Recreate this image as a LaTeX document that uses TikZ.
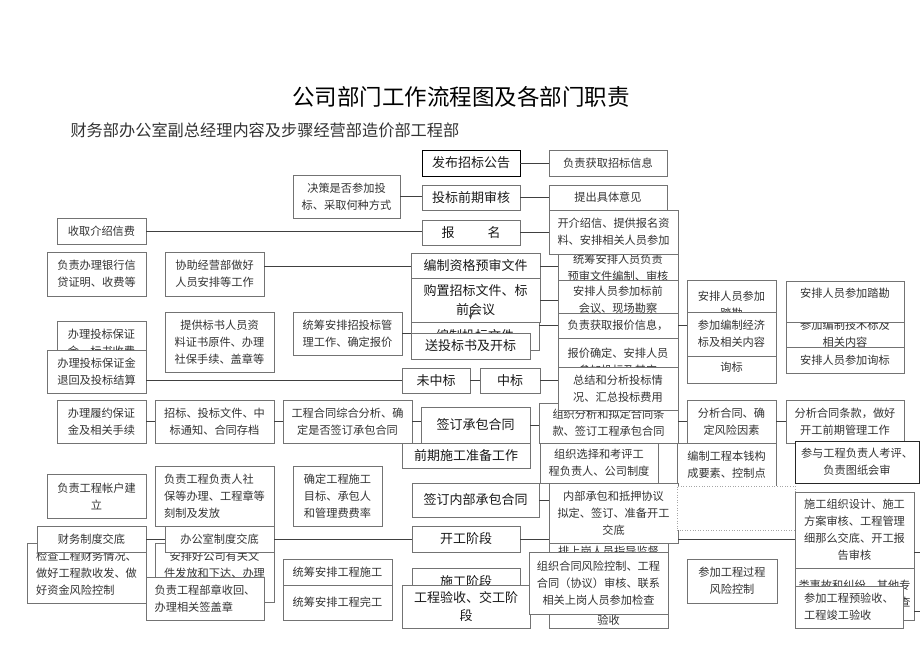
\documentclass[tikz,border=0pt]{standalone}
\usepackage{fontspec}
\setmainfont{Noto Sans CJK SC}
\usetikzlibrary{arrows.meta}

\begin{document}
\begin{tikzpicture}[x=1pt,y=-1pt,
        kuang/.style={draw=black!55, fill=white, line width=0.6pt, inner sep=0pt,
            align=center, text=black!80, font=\fontsize{11.2}{17}\selectfont},
        zhu/.style={kuang, text=black!90, font=\fontsize{13}{18.5}\selectfont},
        wh/.style 2 args={minimum width=#1, minimum height=#2},
        lian/.style={draw=black!75, line width=0.7pt}]
        \useasboundingbox[fill=white] (0,0) rectangle (920,651);

        % titulek
        \node[font=\fontsize{22.5}{26}\selectfont] (biaoti) at (461,97) {公司部门工作流程图及各部门职责};
        \node[font=\fontsize{16.2}{20}\selectfont, text=black!80, anchor=west] (bumen) at (67,130)
            {财务部办公室副总经理内容及步骤经营部造价部工程部};

        % zahajeni
        \node[zhu, draw=black, wh={98}{26}] (fabu) at (471,163) {发布招标公告};
        \node[kuang, wh={118}{26}] (huoqu) at (608,163) {负责获取招标信息};
        \node[kuang, wh={107}{43}] (juece) at (346.5,196.5) {决策是否参加投\\标、采取何种方式};
        \node[zhu, wh={98}{25}] (qianqi) at (471,197.5) {投标前期审核};
        \node[kuang, wh={118}{25}] (yijian) at (608,197.5) {提出具体意见};
        \node[kuang, wh={120}{45}] (tongchou1) at (618,267.5) {统筹安排人员负责\\预审文件编制、审核};
        \node[kuang, wh={129}{44}] (jieshaoxin) at (613.5,232) {开介绍信、提供报名资\\料、安排相关人员参加};
        \node[zhu, wh={98}{25}] (baoming) at (471,232.5) {报\hspace{33pt}名};
        \node[kuang, wh={89}{26}] (shoufei) at (101.5,231) {收取介绍信费};

        % pripravne prace
        \node[kuang, wh={99}{44}] (yinhang) at (96.5,274) {负责办理银行信\\贷证明、收费等};
        \node[kuang, wh={99}{44}] (xiezhu) at (214.5,274) {协助经营部做好\\人员安排等工作};
        \node[zhu, wh={129}{26}] (yushen) at (475.5,266) {编制资格预审文件};
        \node[zhu, wh={128}{28}] (bianzhi) at (475,336) {编制投标文件};
        \node[zhu, wh={129}{44}] (gouzhi) at (475.5,300) {购置招标文件、标\\前会议};
        \node[zhu, wh={119}{26}] (song) at (470.5,346) {送投标书及开标};
        \node[kuang, wh={120}{40}] (canjia1) at (618,300) {安排人员参加标前\\会议、现场勘察};
        \node[kuang, wh={120}{25}] (baojiaxinxi) at (618,325.5) {负责获取报价信息，};
        \node[kuang, wh={120}{47}] (baojiaqueding) at (618,361.5) {报价确定、安排人员\\参加投标及其它};
        \node[kuang, wh={139}{40}] (tiaokuan) at (608.5,423) {组织分析和拟定合同条\\款、签订工程承包合同};
        \node[kuang, wh={120}{43}] (zongjie) at (618,388.5) {总结和分析投标情\\况、汇总投标费用};
        \node[kuang, wh={89}{44}] (bzj1) at (101.5,343) {办理投标保证\\金、标书收费};
        \node[kuang, wh={99}{43}] (bzj2) at (96.5,371.5) {办理投标保证金\\退回及投标结算};
        \node[kuang, wh={109}{60}] (tigong) at (219.5,342) {提供标书人员资\\料证书原件、办理\\社保手续、盖章等};
        \node[kuang, wh={109}{43}] (tongchou2) at (347.5,333.5) {统筹安排招投标管\\理工作、确定报价};
        \node[zhu, wh={68}{25}] (weizhong) at (436,380.5) {未中标};
        \node[zhu, wh={60}{25}] (zhongbiao) at (510,380.5) {中标};

        % zakazky
        \node[kuang, wh={89}{50}] (tacan) at (731.5,305) {安排人员参加\\踏勘};
        \node[kuang, wh={89}{48}] (xunbiao1) at (731.5,359) {安排人员参加\\询标};
        \node[kuang, wh={89}{44}] (jingjibiao) at (731.5,334) {参加编制经济\\标及相关内容};
        \node[kuang, wh={118}{48}] (jishubiao) at (845,334) {参加编制技术标及\\相关内容};
        \node[kuang, wh={118}{41}] (tacan2) at (845,301.5) {安排人员参加踏勘\\\mbox{}};
        \node[kuang, wh={118}{26}] (xunbiao2) at (845,360) {安排人员参加询标};

        % smlouva
        \node[kuang, wh={89}{43}] (lvyue) at (101.5,421.5) {办理履约保证\\金及相关手续};
        \node[kuang, wh={119}{43}] (cundang) at (214.5,421.5) {招标、投标文件、中\\标通知、合同存档};
        \node[kuang, wh={129}{43}] (fenxi) at (347.5,421.5) {工程合同综合分析、确\\定是否签订承包合同};
        \node[zhu, wh={109}{36}] (qianding) at (475.5,425) {签订承包合同};
        \node[kuang, wh={89}{43}] (fengxian) at (731.5,421.5) {分析合同、确\\定风险因素};
        \node[kuang, wh={118}{43}] (kaigong) at (845,421.5) {分析合同条款，做好\\开工前期管理工作};

        \node[zhu, wh={128}{25}] (zhunbei) at (466,455.5) {前期施工准备工作};
        \node[kuang, wh={118}{40}] (kaoping) at (599,463) {组织选择和考评工\\程负责人、公司制度};
        \node[kuang, wh={99}{43}] (chengben) at (726.5,464.5) {编制工程本钱构\\成要素、控制点};
        \node[kuang, draw=black!85, wh={124}{42}] (canyu) at (857,462) {参与工程负责人考评、\\负责图纸会审};

        \node[kuang, wh={99}{44}] (zhanghu) at (96.5,496) {负责工程帐户建\\立};
        \node[kuang, align=left, wh={119}{60}] (shebao) at (214.5,496) {负责工程负责人社\\保等办理、工程章等\\刻制及发放};
        \node[kuang, wh={89}{60}] (mubiao) at (337.5,496) {确定工程施工\\目标、承包人\\和管理费费率};
        \node[zhu, wh={127}{34}] (neibu) at (475.5,500) {签订内部承包合同};
        \node[kuang, wh={119}{85}] (jiandu) at (608.5,585.5) {排上岗人员指导监督\\[52.5pt]验收};
        \node[kuang, wh={129}{60}] (diya) at (613.5,513) {内部承包和抵押协议\\拟定、签订、准备开工\\交底};
        \node[kuang, draw=black!35, dotted, wh={118}{44}] (kong) at (736,508) {};
        \node[kuang, wh={119}{76}] (sheji) at (854.5,530) {施工组织设计、施工\\方案审核、工程管理\\细那么交底、开工报\\告审核};

        % realizace
        \node[kuang, align=left, wh={119}{60}] (jiancha) at (86.5,573) {检查工程财务情况、\\做好工程款收发、做\\好资金风险控制};
        \node[kuang, wh={119}{59}] (anpai) at (214.5,572.5) {安排好公司有关文\\件发放和下达、办理\\\mbox{}};
        \node[kuang, wh={109}{26}] (caiwu) at (91.5,539) {财务制度交底};
        \node[kuang, wh={109}{26}] (bangong) at (219.5,539) {办公室制度交底};
        \node[zhu, wh={108}{26}] (kaigongjd) at (466,539) {开工阶段};
        \node[kuang, align=left, wh={118}{43}] (zhangshou) at (205,598.5) {负责工程部章收回、\\办理相关签盖章};
        \node[kuang, wh={109}{26}] (shigong) at (337.5,572) {统筹安排工程施工};
        \node[kuang, wh={109}{35}] (wangong) at (337.5,602.5) {统筹安排工程完工};
        \node[zhu, wh={108}{28}] (shigongjd) at (466,582) {施工阶段};
        \node[zhu, wh={128}{43}] (yanshou) at (466,606.5) {工程验收、交工阶\\段};
        \node[kuang, wh={139}{62}] (fengxiankz) at (598.5,583) {组织合同风险控制、工程\\合同（协议）审核、联系\\相关上岗人员参加检查};
        \node[kuang, wh={90}{44}] (guocheng) at (732,581) {参加工程过程\\风险控制};
        \node[kuang, wh={119}{52}] (shigu) at (854.5,594) {类事故和纠纷、其他专\\项问题处理、参加检查};
        \node[kuang, align=left, wh={108}{42}] (jungong) at (849,607) {参加工程预验收、\\工程竣工验收};

        \coordinate (okraj1) at (920,552);
        \coordinate (okraj2) at (920,611);

        % spojnice
        \draw[lian] (fabu.east) -- (huoqu.west);
        \draw[lian] (juece.east) -- (juece.east -| qianqi.west);
        \draw[lian] (qianqi.east) -- (yijian.west);
        \draw[lian] (baoming.east) -- (baoming.east -| jieshaoxin.west);
        \draw[lian] (shoufei.east) -- (shoufei.east -| baoming.west);
        \draw[lian] (xiezhu.east |- yushen.west) -- (yushen.west);
        \draw[lian] (yushen.east) -- (yushen.east -| tongchou1.west);
        \draw[lian] (gouzhi.east) -- (gouzhi.east -| canjia1.west);
        \draw[lian] (bianzhi.east |- baojiaxinxi.west) -- (baojiaxinxi.west);
        \draw[lian] (tongchou2.east) -- (tongchou2.east -| bianzhi.west);
        \draw[lian] (baojiaxinxi.east) -- (baojiaxinxi.east -| jingjibiao.west);
        \draw[lian] (bzj2.east |- weizhong.west) -- (weizhong.west);
        \draw[lian] (weizhong.east) -- (zhongbiao.west);
        \draw[lian] (zhongbiao.east) -- (zhongbiao.east -| zongjie.west);
        \draw[lian] (lvyue.east) -- (cundang.west);
        \draw[lian] (cundang.east) -- (fenxi.west);
        \draw[lian] (fenxi.east) -- (fenxi.east -| qianding.west);
        \draw[lian] (qianding.east) -- (qianding.east -| tiaokuan.west);
        \draw[lian] (tiaokuan.east |- fengxian.west) -- (fengxian.west);
        \draw[lian] (fengxian.east) -- (kaigong.west);
        \draw[lian] (neibu.east) -- (neibu.east -| diya.west);
        \draw[lian] (caiwu.east) -- (bangong.west);
        \draw[lian] (bangong.east) -- (kaigongjd.west);
        \draw[lian] (kaigongjd.east) -- (kaigongjd.east -| diya.west);
        \draw[lian] (diya.east |- kaigongjd.east) -- (sheji.west |- kaigongjd.east);
        \draw[lian] (okraj1 -| sheji.east) -- (okraj1);
        \draw[lian] (okraj2 -| shigu.east) -- (okraj2);

        \draw[lian, -{Stealth[length=5pt]}] ([xshift=-5pt]gouzhi.south) ++(0,-15) -- ++(0,12);
    \end{tikzpicture}
\end{document}
